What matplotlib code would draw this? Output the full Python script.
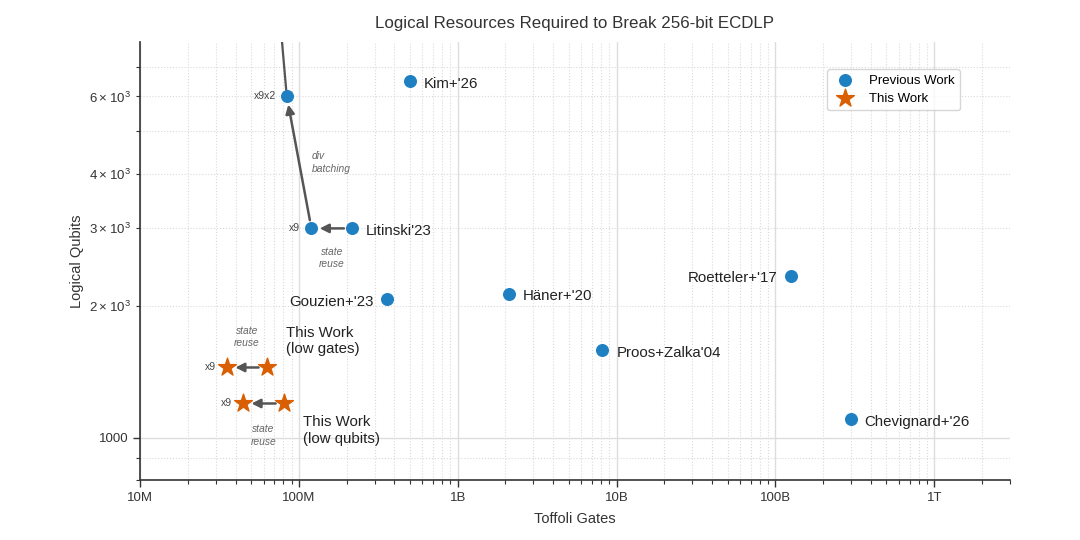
import matplotlib
matplotlib.use("Agg")
import matplotlib.pyplot as plt
from matplotlib.ticker import FuncFormatter, LogLocator, ScalarFormatter

plt.rcParams["font.family"] = ["Liberation Sans", "DejaVu Sans"]

# previous work (toffoli gates, logical qubits)
prev_names = ["Kim+'26", "Litinski'23", "Gouzien+'23", "Häner+'20",
              "Proos+Zalka'04", "Roetteler+'17", "Chevignard+'26"]
prev_gates = [5.0e8, 2.17e8, 3.6e8, 2.1e9, 8.15e9, 1.26e11, 2.98e11]
prev_qubits = [6500, 3000, 2070, 2130, 1580, 2340, 1100]
prev_label_side = ["right", "right", "left", "right", "right", "left", "right"]

# Litinski'23 variants
litinski_x9 = (1.2e8, 3000)
litinski_x9x2 = (8.4e7, 6000)
litinski_next = (7.1e7, 12000)  # off the top of the chart

# this work: (before reuse, after x9 state reuse)
low_gates = [(6.3e7, 1445), (3.53e7, 1445)]
low_qubits = [(8.07e7, 1196), (4.46e7, 1196)]

blue = "#1f80c1"
orange = "#d95f02"
arrow_c = "#555555"
note_c = "#666666"

fig = plt.figure(figsize=(10.8, 5.4), dpi=100)
ax = fig.add_axes([0.1296, 0.111, 0.8056, 0.811])

ax.set_xscale("log")
ax.set_yscale("log")

ax.grid(True, which="major", color="#dddddd", lw=1.0, ls="-")
ax.grid(True, which="minor", color="#dadada", lw=0.8, ls=":")
ax.set_axisbelow(True)

# line continuing above the chart
ax.plot([litinski_x9x2[0], litinski_next[0]], [litinski_x9x2[1], litinski_next[1]],
        color=arrow_c, lw=1.6, zorder=2)

ax.scatter(prev_gates, prev_qubits, s=70, color=blue, zorder=3, label="Previous Work")
ax.scatter([litinski_x9[0], litinski_x9x2[0]], [litinski_x9[1], litinski_x9x2[1]],
           s=70, color=blue, zorder=3)
ax.scatter([p[0] for p in low_gates + low_qubits], [p[1] for p in low_gates + low_qubits],
           s=180, marker="*", color=orange, zorder=3, label="This Work")

for name, x, y, side in zip(prev_names, prev_gates, prev_qubits, prev_label_side):
    dx = 10 if side == "right" else -10
    ax.annotate(name, (x, y), xytext=(dx, -2), textcoords="offset points",
                ha="left" if side == "right" else "right", va="center",
                fontsize=10.8, color="#222222")

arrow_kw = dict(arrowstyle="-|>", color=arrow_c, lw=1.8, mutation_scale=13,
                shrinkA=6, shrinkB=6)

def note(txt, x, y, dx, dy, ha="center"):
    ax.annotate(txt, (x, y), xytext=(dx, dy), textcoords="offset points",
                ha=ha, va="center", fontsize=7.4, color=note_c, style="italic",
                linespacing=1.3)

def mult(txt, x, y):
    ax.annotate(txt, (x, y), xytext=(-8, 0), textcoords="offset points",
                ha="right", va="center", fontsize=7.5, color="#444444")

# Litinski state reuse
ax.annotate("", xy=litinski_x9, xytext=(prev_gates[1], prev_qubits[1]), arrowprops=arrow_kw)
note("state\nreuse", (litinski_x9[0] * prev_gates[1]) ** 0.5, litinski_x9[1], 0, -21.5)
mult("x9", *litinski_x9)

# div batching
ax.annotate("", xy=litinski_x9x2, xytext=litinski_x9, arrowprops=arrow_kw)
note("div\nbatching", (litinski_x9[0] * litinski_x9x2[0]) ** 0.5,
     (litinski_x9[1] * litinski_x9x2[1]) ** 0.5, 9, 0, ha="left")
mult("x9x2", *litinski_x9x2)

# this work, low gates
ax.annotate("", xy=low_gates[1], xytext=low_gates[0], arrowprops=arrow_kw)
note("state\nreuse", (low_gates[0][0] * low_gates[1][0]) ** 0.5, low_gates[0][1], 0, 22)
mult("x9", *low_gates[1])
ax.annotate("This Work\n(low gates)", low_gates[0], xytext=(14, 19), textcoords="offset points",
            ha="left", va="center", fontsize=10.8, color="#222222")

# this work, low qubits
ax.annotate("", xy=low_qubits[1], xytext=low_qubits[0], arrowprops=arrow_kw)
note("state\nreuse", (low_qubits[0][0] * low_qubits[1][0]) ** 0.5, low_qubits[0][1], 0, -23)
mult("x9", *low_qubits[1])
ax.annotate("This Work\n(low qubits)", low_qubits[0], xytext=(14, -19.5), textcoords="offset points",
            ha="left", va="center", fontsize=10.8, color="#222222")

ax.set_xlim(1e7, 3e12)
ax.set_ylim(800, 7980)

def gate_fmt(v, pos):
    names = {1e7: "10M", 1e8: "100M", 1e9: "1B", 1e10: "10B", 1e11: "100B", 1e12: "1T"}
    for k, s in names.items():
        if abs(v - k) / k < 1e-6:
            return s
    return ""

def qubit_minor_fmt(v, pos):
    c = int(round(v / 1000))
    if c in (2, 3, 4, 6):
        return rf"$\mathdefault{{{c}\times10^{{3}}}}$"
    return ""

ax.xaxis.set_major_locator(LogLocator(base=10))
ax.xaxis.set_major_formatter(FuncFormatter(gate_fmt))
ax.xaxis.set_minor_formatter(FuncFormatter(lambda v, p: ""))
ax.yaxis.set_major_formatter(ScalarFormatter())
ax.yaxis.set_minor_formatter(FuncFormatter(qubit_minor_fmt))

ax.tick_params(which="major", direction="out", length=5, width=1, colors="#333333",
               labelsize=9.5, labelcolor="#333333")
ax.tick_params(which="minor", direction="out", length=3, width=0.8, colors="#333333",
               labelsize=9.5, labelcolor="#333333")

for s in ["top", "right"]:
    ax.spines[s].set_visible(False)
for s in ["left", "bottom"]:
    ax.spines[s].set_color("#333333")
    ax.spines[s].set_linewidth(1.2)

ax.set_xlabel("Toffoli Gates", fontsize=10.5, color="#333333", labelpad=6)
ax.set_ylabel("Logical Qubits", fontsize=10.5, color="#333333")
ax.set_title("Logical Resources Required to Break 256-bit ECDLP", fontsize=12.2,
             color="#333333", pad=10)

ax.legend(loc="upper right", bbox_to_anchor=(0.9425, 0.938), borderaxespad=0,
          fontsize=9.5, frameon=True, edgecolor="#cccccc", fancybox=True,
          handletextpad=0.8, borderpad=0.4, labelspacing=0.45)

fig.savefig("out.png", dpi=100)
